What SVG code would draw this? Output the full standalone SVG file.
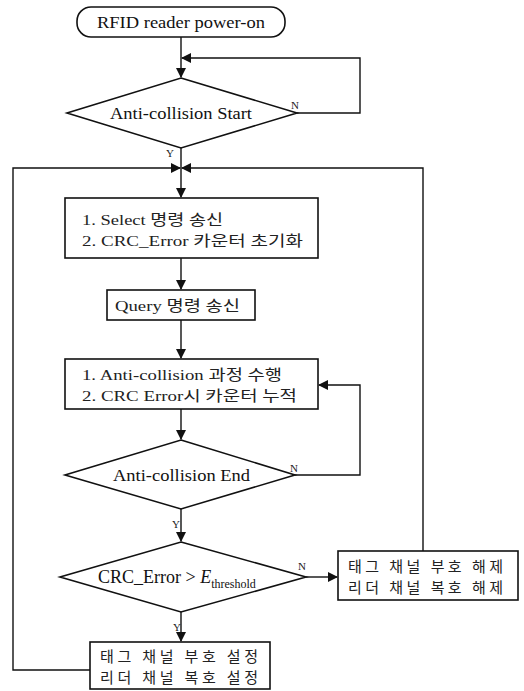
<svg xmlns="http://www.w3.org/2000/svg" width="524" height="691" viewBox="0 0 524 691">
<style>
.shape{fill:#fff;stroke:#111;stroke-width:1.6}
.line{fill:none;stroke:#111;stroke-width:1.4}
.en{font-family:"Liberation Serif","Times New Roman",serif;font-size:17px;fill:#111}
.ko{font-family:"Liberation Serif","Noto Sans CJK KR",serif;font-size:15px;fill:#222}
.lbl{font-family:"Liberation Serif",serif;font-size:11px;fill:#222}
</style>
<defs>
<marker id="arr" markerWidth="10" markerHeight="10" refX="9" refY="5" orient="auto" markerUnits="userSpaceOnUse">
<path d="M0,0 L10,5 L0,10 Z" fill="#111"/>
</marker>
</defs>
<rect width="524" height="691" fill="#fff"/>
<g id="connectors">
<path class="line" d="M181,37 V77" marker-end="url(#arr)"/>
<path class="line" d="M297,113 H360 V58 H182" marker-end="url(#arr)"/>
<path class="line" d="M181,148 V197" marker-end="url(#arr)"/>
<path class="line" d="M90,670 H13 V168 H180" marker-end="url(#arr)"/>
<path class="line" d="M423,551 V168 H182" marker-end="url(#arr)"/>
<path class="line" d="M181,258 V289" marker-end="url(#arr)"/>
<path class="line" d="M181,320 V358" marker-end="url(#arr)"/>
<path class="line" d="M181,409 V439" marker-end="url(#arr)"/>
<path class="line" d="M295,475 H360 V385 H319" marker-end="url(#arr)"/>
<path class="line" d="M181,509 V541" marker-end="url(#arr)"/>
<path class="line" d="M306,577 H337" marker-end="url(#arr)"/>
<path class="line" d="M181,612 V641" marker-end="url(#arr)"/>
<text class="lbl" x="291" y="109">N</text>
<text class="lbl" x="166" y="157">Y</text>
<text class="lbl" x="290" y="472">N</text>
<text class="lbl" x="172" y="528">Y</text>
<text class="lbl" x="298" y="570">N</text>
<text class="lbl" x="173" y="631">Y</text>
</g>
<g id="start">
<rect class="shape" x="77" y="7" width="208" height="30" rx="14"/>
<text class="en" x="97" y="28" textLength="168" lengthAdjust="spacingAndGlyphs">RFID reader power-on</text>
</g>
<g id="dec1">
<polygon class="shape" points="181,78 297,113 181,148 67,113"/>
<text class="en" x="110" y="119" textLength="142" lengthAdjust="spacingAndGlyphs">Anti-collision Start</text>
</g>
<g id="box1">
<rect class="shape" x="65" y="198" width="253" height="60"/>
<text class="ko" x="82" y="225" textLength="141" lengthAdjust="spacingAndGlyphs">1. Select 명령 송신</text>
<text class="ko" x="82" y="246" textLength="221" lengthAdjust="spacingAndGlyphs">2. CRC_Error 카운터 초기화</text>
</g>
<g id="box2">
<rect class="shape" x="107" y="290" width="148" height="30"/>
<text class="ko" x="115" y="311" textLength="125" lengthAdjust="spacingAndGlyphs">Query 명령 송신</text>
</g>
<g id="box3">
<rect class="shape" x="65" y="359" width="253" height="50"/>
<text class="ko" x="82" y="380" textLength="200" lengthAdjust="spacingAndGlyphs">1. Anti-collision 과정 수행</text>
<text class="ko" x="82" y="401" textLength="215" lengthAdjust="spacingAndGlyphs">2. CRC Error시 카운터 누적</text>
</g>
<g id="dec2">
<polygon class="shape" points="181,440 295,475 181,509 65,475"/>
<text class="en" x="113" y="481" textLength="137" lengthAdjust="spacingAndGlyphs">Anti-collision End</text>
</g>
<g id="dec3">
<polygon class="shape" points="181,542 306,577 181,612 60,577"/>
<text class="en" x="98" y="583" style="font-size:18px">CRC_Error &gt; <tspan font-style="italic">E</tspan><tspan style="font-size:12px" dy="5">threshold</tspan></text>
</g>
<g id="box_release">
<rect class="shape" x="338" y="551" width="180" height="49"/>
<text class="ko" x="348" y="572" textLength="155" lengthAdjust="spacing">태그 채널 부호 해제</text>
<text class="ko" x="348" y="593" textLength="155" lengthAdjust="spacing">리더 채널 복호 해제</text>
</g>
<g id="box_set">
<rect class="shape" x="90" y="642" width="180" height="47"/>
<text class="ko" x="100" y="662" textLength="158" lengthAdjust="spacing">태그 채널 부호 설정</text>
<text class="ko" x="100" y="683" textLength="158" lengthAdjust="spacing">리더 채널 복호 설정</text>
</g>
</svg>
